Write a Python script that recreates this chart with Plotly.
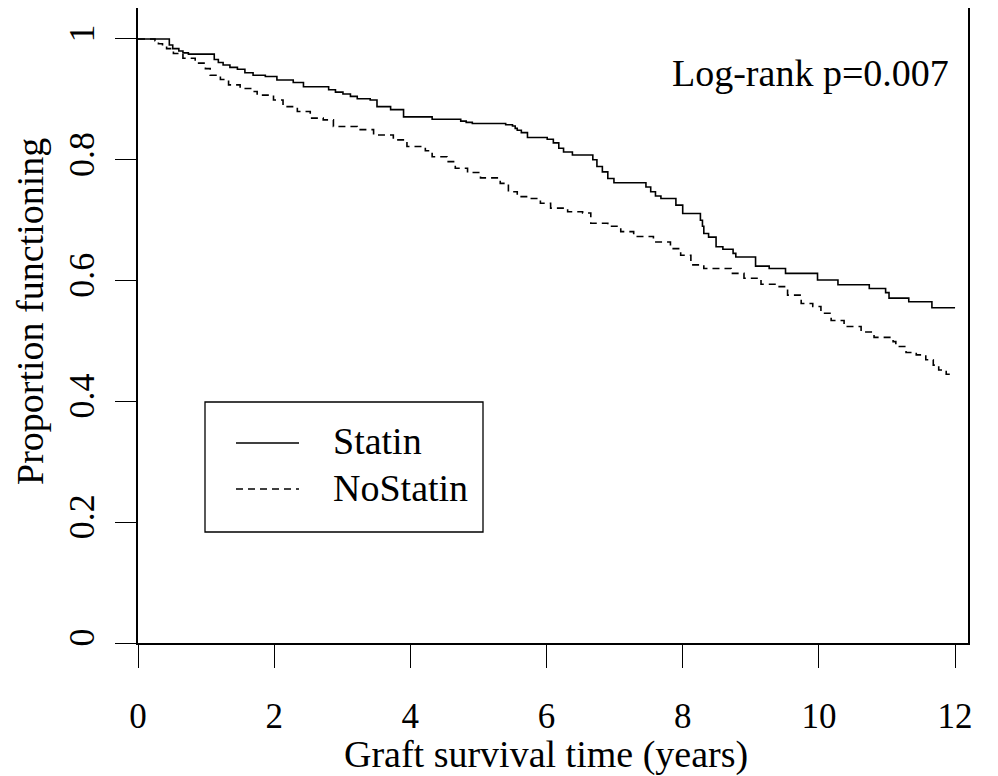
import plotly.graph_objects as go

# ---- data (Kaplan-Meier step curves) ----
series_names = ["Statin", "NoStatin"]

statin_time = [0.00, 0.46, 0.51, 0.60, 0.66, 0.74, 1.12, 1.18, 1.25, 1.35,
               1.46, 1.57, 1.69, 1.87, 2.04, 2.28, 2.43, 2.80, 2.90, 3.01,
               3.12, 3.22, 3.41, 3.51, 3.71, 3.90, 4.32, 4.74, 4.82, 4.91,
               5.40, 5.50, 5.54, 5.57, 5.63, 5.72, 6.01, 6.10, 6.18, 6.25,
               6.38, 6.68, 6.74, 6.82, 6.90, 6.99, 7.46, 7.53, 7.60, 7.68,
               7.90, 8.00, 8.26, 8.29, 8.31, 8.38, 8.49, 8.59, 8.74, 8.78,
               9.07, 9.27, 9.51, 9.98, 10.28, 10.74, 10.98, 11.03, 11.32, 11.66,
               12.00]
statin_surv = [1.000, 0.990, 0.984, 0.980, 0.977, 0.975, 0.966, 0.961, 0.957, 0.953,
               0.950, 0.944, 0.940, 0.938, 0.932, 0.928, 0.921, 0.916, 0.912, 0.909,
               0.905, 0.901, 0.899, 0.888, 0.883, 0.871, 0.867, 0.864, 0.862, 0.860,
               0.858, 0.856, 0.852, 0.849, 0.845, 0.837, 0.834, 0.828, 0.819, 0.813,
               0.808, 0.800, 0.789, 0.780, 0.769, 0.762, 0.755, 0.747, 0.740, 0.736,
               0.725, 0.711, 0.700, 0.690, 0.678, 0.672, 0.656, 0.652, 0.645, 0.639,
               0.624, 0.620, 0.612, 0.601, 0.593, 0.587, 0.580, 0.571, 0.565, 0.555,
               0.555]

nostatin_time = [0.00, 0.25, 0.30, 0.36, 0.42, 0.52, 0.66, 0.84, 0.99, 1.06,
                 1.21, 1.33, 1.50, 1.68, 1.75, 1.99, 2.13, 2.34, 2.53, 2.72,
                 2.87, 3.22, 3.46, 3.75, 3.95, 4.22, 4.32, 4.54, 4.66, 4.84,
                 5.03, 5.32, 5.44, 5.57, 5.76, 5.91, 6.06, 6.31, 6.53, 6.65,
                 6.90, 7.09, 7.28, 7.57, 7.82, 7.97, 8.12, 8.31, 8.71, 8.90,
                 9.15, 9.40, 9.54, 9.74, 9.91, 10.03, 10.18, 10.37, 10.62, 10.81,
                 11.09, 11.13, 11.28, 11.43, 11.57, 11.68, 11.76, 11.87, 11.97]
nostatin_surv = [1.000, 0.997, 0.992, 0.988, 0.984, 0.976, 0.968, 0.960, 0.951, 0.940,
                 0.933, 0.924, 0.918, 0.913, 0.907, 0.899, 0.888, 0.880, 0.869, 0.866,
                 0.855, 0.850, 0.841, 0.833, 0.822, 0.815, 0.805, 0.797, 0.786, 0.779,
                 0.770, 0.761, 0.747, 0.739, 0.736, 0.728, 0.720, 0.714, 0.712, 0.695,
                 0.690, 0.681, 0.673, 0.664, 0.653, 0.642, 0.626, 0.620, 0.612, 0.604,
                 0.594, 0.590, 0.576, 0.562, 0.557, 0.546, 0.534, 0.524, 0.515, 0.506,
                 0.499, 0.491, 0.481, 0.477, 0.469, 0.460, 0.452, 0.445, 0.445]

x_ticks = [0, 2, 4, 6, 8, 10, 12]
x_tick_labels = ["0", "2", "4", "6", "8", "10", "12"]
y_ticks = [0, 0.2, 0.4, 0.6, 0.8, 1.0]
y_tick_labels = ["0", "0.2", "0.4", "0.6", "0.8", "1"]

x_title = "Graft survival time (years)"
y_title = "Proportion functioning"
pvalue_text = "Log-rank p=0.007"

FONT = "Liberation Serif, Times New Roman, serif"
DASH = "7px,5px"
LW = 1.6

fig = go.Figure()
fig.add_trace(go.Scatter(x=statin_time, y=statin_surv, mode="lines",
                         line=dict(shape="hv", color="black", width=LW),
                         name=series_names[0], showlegend=False))
fig.add_trace(go.Scatter(x=nostatin_time, y=nostatin_surv, mode="lines",
                         line=dict(shape="hv", color="black", width=LW, dash=DASH),
                         name=series_names[1], showlegend=False))

# page offset of the figure (browser body margin)
OFF = 8
W, H = 990, 768
L, R, T, B = 130, 30, 0, 133
pw, ph = W - L - R, H - T - B
PLOT_LEFT, PLOT_BOTTOM = OFF + L, OFF + H - B


def px(xp):
    return (xp - PLOT_LEFT) / pw


def py(yp):
    return (PLOT_BOTTOM - yp) / ph


# legend box drawn by hand (R-style)
fig.add_shape(type="rect", xref="paper", yref="paper",
              x0=px(205), x1=px(483), y0=py(532), y1=py(402),
              line=dict(color="black", width=1.3), fillcolor="white")
fig.add_shape(type="line", xref="paper", yref="paper",
              x0=px(236), x1=px(299), y0=py(443), y1=py(443),
              line=dict(color="black", width=LW))
fig.add_shape(type="line", xref="paper", yref="paper",
              x0=px(236), x1=px(299), y0=py(489), y1=py(489),
              line=dict(color="black", width=LW, dash=DASH))

annotations = [
    dict(text=series_names[0], x=px(331), y=py(441), xanchor="left", yanchor="middle",
         font=dict(size=38)),
    dict(text=series_names[1], x=px(331), y=py(488), xanchor="left", yanchor="middle",
         font=dict(size=38)),
    dict(text=pvalue_text, x=px(951), y=py(73), xanchor="right", yanchor="middle",
         font=dict(size=38)),
    dict(text=x_title, x=px(546), y=py(754), xanchor="center", yanchor="middle",
         font=dict(size=38)),
    dict(text=y_title, x=px(30), y=py(312), xanchor="center", yanchor="middle",
         textangle=-90, font=dict(size=38)),
]
for a in annotations:
    a.update(xref="paper", yref="paper", showarrow=False)

fig.update_layout(
    width=W, height=H,
    margin=dict(l=L, r=R, t=T, b=B, autoexpand=False),
    paper_bgcolor="white", plot_bgcolor="white",
    font=dict(family=FONT, color="black", size=36),
    annotations=annotations,
    showlegend=False,
)
fig.update_xaxes(range=[0, 12.19], tickvals=x_ticks, ticktext=x_tick_labels,
                 showgrid=False, zeroline=False, showline=True, mirror=True,
                 linecolor="black", linewidth=1.5,
                 ticks="outside", ticklen=23, tickwidth=1.3, tickcolor="black",
                 ticklabelstandoff=18, tickfont=dict(size=35))
fig.update_yaxes(range=[0, 1.0513], tickvals=y_ticks, ticktext=y_tick_labels,
                 showgrid=False, zeroline=False, showline=True, mirror=True,
                 linecolor="black", linewidth=1.5,
                 ticks="outside", ticklen=21, tickwidth=1.3, tickcolor="black",
                 tickangle=-90, ticklabelstandoff=7, tickfont=dict(size=36))

fig.write_html("out.html")
